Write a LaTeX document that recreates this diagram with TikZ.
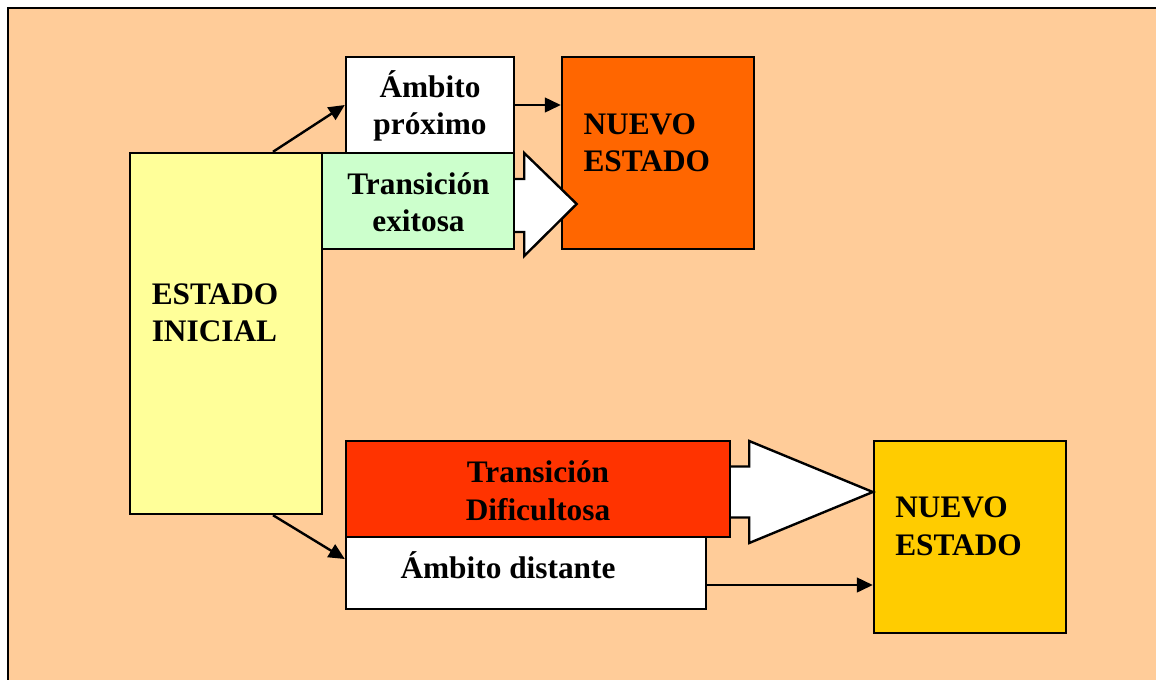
\documentclass[tikz,border=0pt]{standalone}
\usepackage{fontspec}
\setmainfont{Liberation Serif}
\usetikzlibrary{arrows.meta,calc}
\definecolor{peach}{HTML}{FFCC99}
\definecolor{paleyellow}{HTML}{FFFF99}
\definecolor{palegreen}{HTML}{CCFFCC}
\definecolor{orangebox}{HTML}{FF6600}
\definecolor{redbox}{HTML}{FF3300}
\definecolor{goldbox}{HTML}{FFCC00}
\tikzset{
  box/.style={draw=black, line width=1.8pt, inner sep=0pt, rectangle},
  txt/.style={font=\fontsize{23.5}{28}\selectfont\bfseries, inner sep=0pt},
  arr/.style={line width=1.8pt, -{Triangle[length=12pt,width=11pt]}},
  blockarrow/.style={line width=1.8pt, line join=miter},
}
\begin{document}
\begin{tikzpicture}[x=0.75pt,y=-0.75pt]
\useasboundingbox (0,0) rectangle (1156,679);
\draw[fill=peach, line width=1.8pt] (8,8) rectangle (1170,690);
% boxes
\node[box, fill=paleyellow, minimum width=144pt, minimum height=270.75pt] (ini) at (226,333.5) {};
\node[box, fill=white, minimum width=126pt, minimum height=72pt] (prox) at (430,105) {};
\node[box, fill=palegreen, minimum width=144pt, minimum height=72pt] (exi) at (418,201) {};
\node[box, fill=orangebox, minimum width=144pt, minimum height=144pt] (nue1) at (658,153) {};
\node[box, fill=redbox, minimum width=288pt, minimum height=72pt] (dif) at (538,489) {};
\node[box, fill=white, minimum width=270pt, minimum height=54pt] (dist) at (526,573) {};
\node[box, fill=goldbox, minimum width=144pt, minimum height=144pt] (nue2) at (970,537) {};
% texts (base anchor = baseline of the last line)
\node[txt, anchor=base west, align=left] (tini) at (151.5,341.7) {ESTADO\\INICIAL};
\node[txt, anchor=base, align=center] (tprox) at (430,134.5) {Ámbito\\próximo};
\node[txt, anchor=base, align=center] (texi) at (418.5,231.7) {Transición\\exitosa};
\node[txt, anchor=base west, align=left] (tnue1) at (583.3,171.7) {NUEVO\\ESTADO};
\node[txt, anchor=base, align=center] (tdif) at (538,520) {Transición\\Dificultosa};
\node[txt, anchor=base] (tdist) at (508,578.3) {Ámbito distante};
\node[txt, anchor=base west, align=left] (tnue2) at (895,555) {NUEVO\\ESTADO};
% line arrows
\coordinate (i1) at ($(ini.north)+(47,0)$);
\coordinate (i2) at ($(ini.south)+(47,0)$);
\coordinate (d0) at ($(dist.west)+(0,-14)$);
\coordinate (d1) at ($(dist.east)+(0,12)$);
\draw[arr] (i1) -- (prox.west);
\draw[arr] (prox.east) -- (prox.east -| nue1.west);
\draw[arr] (i2) -- (d0);
\draw[arr] (d1) -- (d1 -| nue2.west);
% block arrow 1
\fill[white] ($(exi.east)+(0,-22)$) -- ++(9,0) -- ++(0,-26) -- ($(exi.east)+(61.5,3)$) -- ($(exi.east)+(9,55)$) -- ++(0,-24) -- ++(-9,0) -- cycle;
\draw[blockarrow] ($(exi.east)+(0,-22)$) -- ++(9,0) -- ++(0,-26) -- ($(exi.east)+(61.5,3)$) -- ($(exi.east)+(9,55)$) -- ++(0,-24) -- ++(-9,0);
% block arrow 2
\fill[white] ($(dif.east)+(0,-22.5)$) -- ++(18,0) -- ++(0,-25.5) -- ($(nue2.west)+(0,-45)$) -- ($(dif.east)+(18,54)$) -- ++(0,-25.5) -- ++(-18,0) -- cycle;
\draw[blockarrow] ($(dif.east)+(0,-22.5)$) -- ++(18,0) -- ++(0,-25.5) -- ($(nue2.west)+(0,-45)$) -- ($(dif.east)+(18,54)$) -- ++(0,-25.5) -- ++(-18,0);
\end{tikzpicture}
\end{document}
